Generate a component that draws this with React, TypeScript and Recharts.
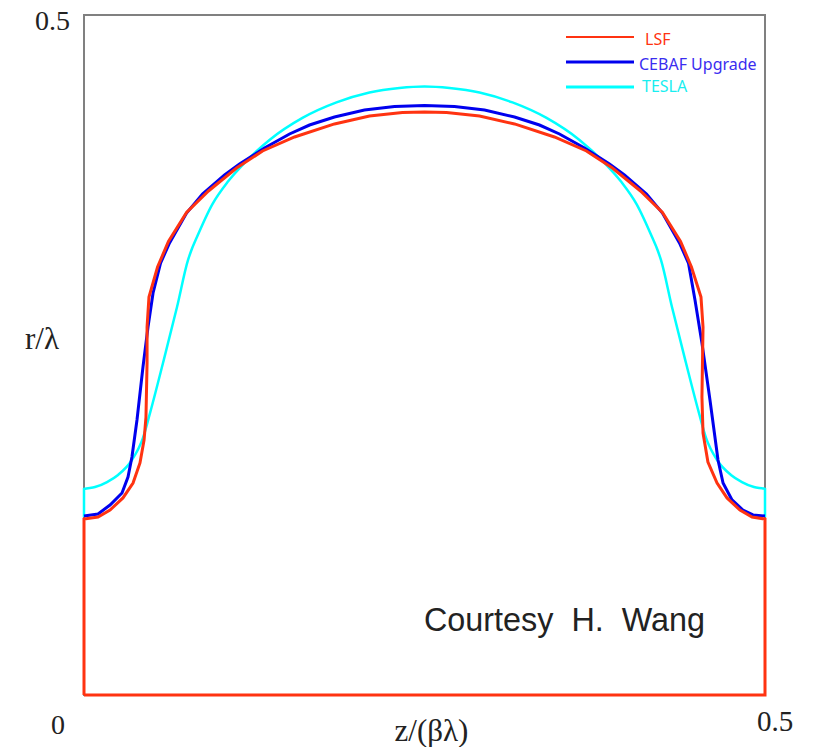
import {
  ComposedChart,
  Label,
  Legend,
  Line,
  ReferenceArea,
  XAxis,
  YAxis,
} from "recharts"

const LSF_Z = [
  0, 0, 0.0103, 0.0191, 0.0286, 0.036, 0.0411, 0.0441, 0.0455, 0.0463, 0.0463, 0.0477, 0.054, 0.062,
  0.0753, 0.0914, 0.112, 0.1311, 0.1546, 0.1839, 0.2096, 0.2338, 0.25, 0.2662, 0.2904, 0.3161,
  0.3454, 0.3689, 0.388, 0.4086, 0.4247, 0.438, 0.446, 0.453, 0.4545, 0.4537, 0.4545, 0.4581,
  0.4648, 0.4721, 0.4816, 0.4905, 0.5, 0.5, 0,
]
const LSF_R = [
  0, 0.1294, 0.1309, 0.136, 0.1449, 0.1559, 0.1706, 0.1875, 0.2044, 0.2441, 0.2706, 0.2926, 0.3147,
  0.3335, 0.3548, 0.3706, 0.3875, 0.4, 0.4103, 0.4199, 0.4257, 0.4283, 0.4287, 0.4283, 0.4257,
  0.4199, 0.4103, 0.4, 0.3875, 0.3706, 0.3548, 0.3335, 0.3147, 0.2926, 0.2706, 0.2191, 0.1926,
  0.1713, 0.1559, 0.1449, 0.136, 0.1309, 0.1294, 0, 0,
]
const CEBAF_Z = [
  0, 0.0103, 0.0191, 0.0279, 0.0323, 0.0352, 0.0389, 0.0433, 0.047, 0.0507, 0.0562, 0.0628, 0.0753,
  0.087, 0.1032, 0.1142, 0.1325, 0.1509, 0.1656, 0.1839, 0.2059, 0.228, 0.25, 0.272, 0.2941, 0.3161,
  0.3344, 0.3491, 0.3675, 0.3858, 0.3968, 0.413, 0.4247, 0.4372, 0.4438, 0.4486, 0.4537, 0.4596,
  0.4655, 0.4692, 0.4758, 0.4838, 0.4912, 0.5,
]
const CEBAF_R = [
  0.1316, 0.1331, 0.1397, 0.1485, 0.1603, 0.175, 0.2022, 0.2412, 0.2706, 0.2956, 0.3176, 0.3324,
  0.3544, 0.3684, 0.3824, 0.3904, 0.4022, 0.4125, 0.4191, 0.425, 0.4301, 0.4327, 0.4335, 0.4327,
  0.4301, 0.425, 0.4191, 0.4125, 0.4022, 0.3904, 0.3824, 0.3684, 0.3544, 0.3324, 0.3176, 0.2904,
  0.2588, 0.2169, 0.1728, 0.1559, 0.1434, 0.136, 0.1324, 0.1316,
]
const TESLA_Z = [
  0, 0, 0.0081, 0.0169, 0.025, 0.0352, 0.0433, 0.0485, 0.058, 0.0683, 0.0764, 0.0789, 0.0826, 0.0943,
  0.1054, 0.1178, 0.1362, 0.1604, 0.1854, 0.2096, 0.2316, 0.25, 0.2684, 0.2904, 0.3146, 0.3396,
  0.3638, 0.3822, 0.3946, 0.4057, 0.4174, 0.4211, 0.4236, 0.4317, 0.442, 0.4515, 0.4567, 0.4648,
  0.475, 0.4831, 0.4919, 0.5, 0.5,
]
const TESLA_R = [
  0.1309, 0.1515, 0.1529, 0.1566, 0.1618, 0.1728, 0.189, 0.2074, 0.2441, 0.2853, 0.3199, 0.3272,
  0.336, 0.361, 0.3772, 0.3912, 0.4081, 0.4243, 0.4357, 0.443, 0.4463, 0.4474, 0.4463, 0.443, 0.4357,
  0.4243, 0.4081, 0.3912, 0.3772, 0.361, 0.336, 0.3272, 0.3199, 0.2853, 0.2441, 0.2074, 0.189,
  0.1728, 0.1618, 0.1566, 0.1529, 0.1515, 0.1309,
]
const AXIS_TICKS = [0, 0.5]

const RED = "#ff3311"
const BLUE = "#0000ee"
const CYAN = "#00ffff"
const SERIF = "'Liberation Serif', serif"

const zip = (z: number[], r: number[]) => z.map((value, i) => ({ z: value, r: r[i] }))

const LEGEND_ROWS = [
  { name: "LSF", color: RED, lineColor: RED, lineWidth: 2, lineY: 37, textX: 645, textY: 45 },
  { name: "CEBAF Upgrade", color: "#3a2df0", lineColor: BLUE, lineWidth: 3, lineY: 62, textX: 639, textY: 70 },
  { name: "TESLA", color: "#19eef0", lineColor: CYAN, lineWidth: 3, lineY: 87, textX: 642, textY: 92 },
]

const XTick = ({ x, payload }: any) =>
  payload.value === 0 ? (
    <text x={x - 26} y={734} textAnchor="middle" fontFamily={SERIF} fontSize={28} fill="#222">
      0
    </text>
  ) : (
    <text x={x + 10} y={731} textAnchor="middle" fontFamily={SERIF} fontSize={29} fill="#222">
      0.5
    </text>
  )

const YTick = ({ x, y, payload }: any) =>
  payload.value === 0.5 ? (
    <text x={x - 6} y={y + 15} textAnchor="end" fontFamily={SERIF} fontSize={28} fill="#222">
      0.5
    </text>
  ) : null

const CourtesyLabel = () => (
  <text
    x={424}
    y={631}
    fontFamily="'Liberation Sans', sans-serif"
    fontSize={33}
    fill="#222"
    style={{ whiteSpace: "pre" }}
    textLength={281}
    lengthAdjust="spacingAndGlyphs"
  >
    {"Courtesy  H.  Wang"}
  </text>
)

const LegendBox = () => (
  <svg width={813} height={110} style={{ position: "absolute", left: 0, top: 0 }}>
    {LEGEND_ROWS.map((row) => (
      <g key={row.name}>
        <line
          x1={566}
          x2={634}
          y1={row.lineY}
          y2={row.lineY}
          stroke={row.lineColor}
          strokeWidth={row.lineWidth}
        />
        <text x={row.textX} y={row.textY} fontFamily="'Noto Sans', sans-serif" fontSize={16} fill={row.color}>
          {row.name}
        </text>
      </g>
    ))}
  </svg>
)

export default function App() {
  return (
    <div style={{ position: "absolute", left: 0, top: 0, width: 813, height: 747, background: "#fff" }}>
      <ComposedChart
        width={813}
        height={747}
        margin={{ top: 15, right: 48, bottom: 0, left: 0 }}
      >
        <XAxis
          dataKey="z"
          type="number"
          domain={[0, 0.5]}
          ticks={AXIS_TICKS}
          axisLine={false}
          tickLine={false}
          tick={<XTick />}
          height={52}
          allowDuplicatedCategory
        >
          <Label
            value="z/(βλ)"
            position="bottom"
            offset={-28}
            dx={7}
            style={{ fontFamily: SERIF, fontSize: 31, fill: "#222" }}
          />
        </XAxis>
        <YAxis
          dataKey="r"
          type="number"
          domain={[0, 0.5]}
          ticks={AXIS_TICKS}
          axisLine={false}
          tickLine={false}
          tick={<YTick />}
          width={84}
        >
          <Label
            value="r/λ"
            position="insideLeft"
            offset={25}
            dy={-17}
            style={{ fontFamily: SERIF, fontSize: 31, fill: "#222" }}
          />
        </YAxis>
        <ReferenceArea x1={0} x2={0.5} y1={0} y2={0.5} fill="none" stroke="#808080" strokeWidth={2} />
        <Line
          data={zip(TESLA_Z, TESLA_R)}
          dataKey="r"
          type="monotone"
          stroke={CYAN}
          strokeWidth={2.5}
          dot={false}
          legendType="none"
          isAnimationActive={false}
        />
        <Line
          data={zip(CEBAF_Z, CEBAF_R)}
          dataKey="r"
          stroke={BLUE}
          strokeWidth={3}
          dot={false}
          legendType="none"
          isAnimationActive={false}
        />
        <Line
          data={zip(LSF_Z, LSF_R)}
          dataKey="r"
          stroke={RED}
          strokeWidth={3}
          dot={false}
          legendType="none"
          isAnimationActive={false}
        />
        <ReferenceArea
          x1={0.25}
          x2={0.5}
          y1={0.04}
          y2={0.12}
          fill="none"
          stroke="none"
          label={() => <CourtesyLabel />}
        />
        <Legend content={<LegendBox />} wrapperStyle={{ position: "absolute", left: 0, top: 0, width: 813 }} />
      </ComposedChart>
    </div>
  )
}
